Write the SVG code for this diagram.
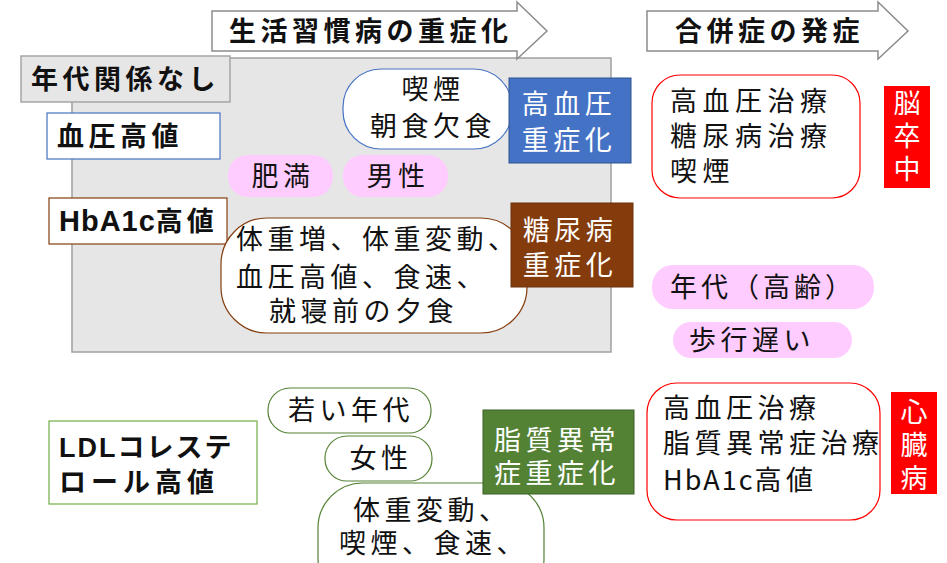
<svg xmlns="http://www.w3.org/2000/svg" width="947" height="563" viewBox="0 0 947 563">
<style>
text{font-family:"Noto Sans CJK JP","Noto Sans",sans-serif;font-size:27px;letter-spacing:4.5px;fill:#111}
.b{font-weight:700}
.lat{font-family:"Liberation Sans","Noto Sans CJK JP",sans-serif}
.w{fill:#fff}
.m{text-anchor:middle}
.vt{writing-mode:vertical-rl;letter-spacing:6px}
.arrow{fill:#fff;stroke:#8c8c8c;stroke-width:1.5}
.pink{fill:#ffccff}
</style>
<rect width="947" height="563" fill="#fff"/>
<g id="panel"><rect x="72" y="58" width="539" height="294" fill="#e7e6e6" stroke="#a0a0a0" stroke-width="1.5"/></g>
<g id="connectors"></g>
<g id="arrow-lifestyle"><path class="arrow" d="M212 11H517V2L547 31L517 59V51H212Z"/><text class="b" x="229" y="41">生活習慣病の重症化</text></g>
<g id="arrow-complication"><path class="arrow" d="M647 11H878V2L908 31L878 59V51H647Z"/><text class="b" x="675" y="41">合併症の発症</text></g>
<g id="age-none"><rect x="21" y="56" width="209" height="46" fill="#e7e6e6" stroke="#a5a5a5" stroke-width="1.5"/><text class="b" x="31" y="89">年代関係なし</text></g>
<g id="bp-high"><rect x="47" y="113" width="173" height="46" fill="#fff" stroke="#4472c4" stroke-width="1.2"/><text class="b" x="57" y="146">血圧高値</text></g>
<g id="obesity"><rect class="pink" x="228" y="155" width="105" height="42" rx="20"/><text class="m" x="283" y="186">肥満</text></g>
<g id="male"><rect class="pink" x="343" y="155" width="105" height="42" rx="20"/><text class="m" x="398" y="186">男性</text></g>
<g id="smoke-breakfast"><rect x="343" y="69" width="169" height="80" rx="38" fill="#fff" stroke="#4472c4" stroke-width="1.2"/><text class="m" x="433"><tspan x="433" y="99">喫煙</tspan><tspan x="433" y="136">朝食欠食</tspan></text></g>
<g id="hypertension-severe"><rect x="509" y="78" width="122" height="85" fill="#4472c4" stroke="#2f528f" stroke-width="1"/><text class="w m"><tspan x="569" y="114">高血圧</tspan><tspan x="569" y="150">重症化</tspan></text></g>
<g id="hba1c-high"><rect x="49" y="198" width="178" height="46" fill="#fff" stroke="#843c0c" stroke-width="1.2"/><text class="b lat" x="59" y="231"><tspan style="font-size:29px;letter-spacing:1px">HbA1c</tspan><tspan style="letter-spacing:4px">高値</tspan></text></g>
<g id="weight-factors"><rect x="221" y="218" width="306" height="115" rx="46" fill="#fff" stroke="#843c0c" stroke-width="1.2"/><text><tspan x="236" y="249">体重増、体重変動、</tspan><tspan x="236" y="287">血圧高値、食速、</tspan><tspan x="269" y="321">就寝前の夕食</tspan></text></g>
<g id="diabetes-severe"><rect x="511" y="203" width="122" height="84" fill="#843c0c" stroke="#6a300a" stroke-width="1"/><text class="w m"><tspan x="570" y="240">糖尿病</tspan><tspan x="570" y="275">重症化</tspan></text></g>
<g id="stroke-factors"><rect x="652" y="75" width="208" height="123" rx="28" fill="#fff" stroke="#ff0000" stroke-width="1.2"/><text style="letter-spacing:5.5px"><tspan x="670" y="111">高血圧治療</tspan><tspan x="670" y="146">糖尿病治療</tspan><tspan x="670" y="181">喫煙</tspan></text></g>
<g id="stroke"><rect x="884" y="86" width="46" height="102" fill="#ff0000"/><text class="w vt" x="907" y="89">脳卒中</text></g>
<g id="age-old"><rect class="pink" x="652" y="265" width="222" height="44" rx="21"/><text x="670" y="297" style="letter-spacing:4px">年代（高齢）</text></g>
<g id="slow-walk"><rect class="pink" x="673" y="322" width="179" height="36" rx="18"/><text x="689" y="350">歩行遅い</text></g>
<g id="heart-factors"><rect x="647" y="383" width="233" height="137" rx="30" fill="#fff" stroke="#ff0000" stroke-width="1.2"/><text><tspan x="663" y="418">高血圧治療</tspan><tspan x="663" y="453">脂質異常症治療</tspan><tspan x="663" y="490"><tspan style="letter-spacing:2px">HbA1c</tspan>高値</tspan></text></g>
<g id="heart"><rect x="891" y="392" width="46" height="102" fill="#ff0000"/><text class="w vt" x="914" y="398">心臓病</text></g>
<g id="ldl-high"><rect x="49" y="421" width="208" height="83" fill="#fff" stroke="#70ad47" stroke-width="1.2"/><text class="b lat"><tspan x="59" y="457" style="letter-spacing:2px">LDLコレステ</tspan><tspan x="59" y="492" style="letter-spacing:5px">ロール高値</tspan></text></g>
<g id="young"><rect x="268" y="388" width="163" height="45" rx="22" fill="#fff" stroke="#548235" stroke-width="1.2"/><text class="m" x="351" y="420">若い年代</text></g>
<g id="female"><rect x="325" y="436" width="107" height="45" rx="22" fill="#fff" stroke="#548235" stroke-width="1.2"/><text class="m" x="381" y="468">女性</text></g>
<g id="lipid-factors"><rect x="318" y="483" width="226" height="120" rx="45" fill="#fff" stroke="#548235" stroke-width="1.2"/><text><tspan x="353" y="520">体重変動、</tspan><tspan x="339" y="553">喫煙、食速、</tspan></text></g>
<g id="lipid-severe"><rect x="483" y="410" width="151" height="84" fill="#548235" stroke="#3d6126" stroke-width="1"/><text class="w m"><tspan x="557" y="450">脂質異常</tspan><tspan x="557" y="483">症重症化</tspan></text></g>
</svg>
